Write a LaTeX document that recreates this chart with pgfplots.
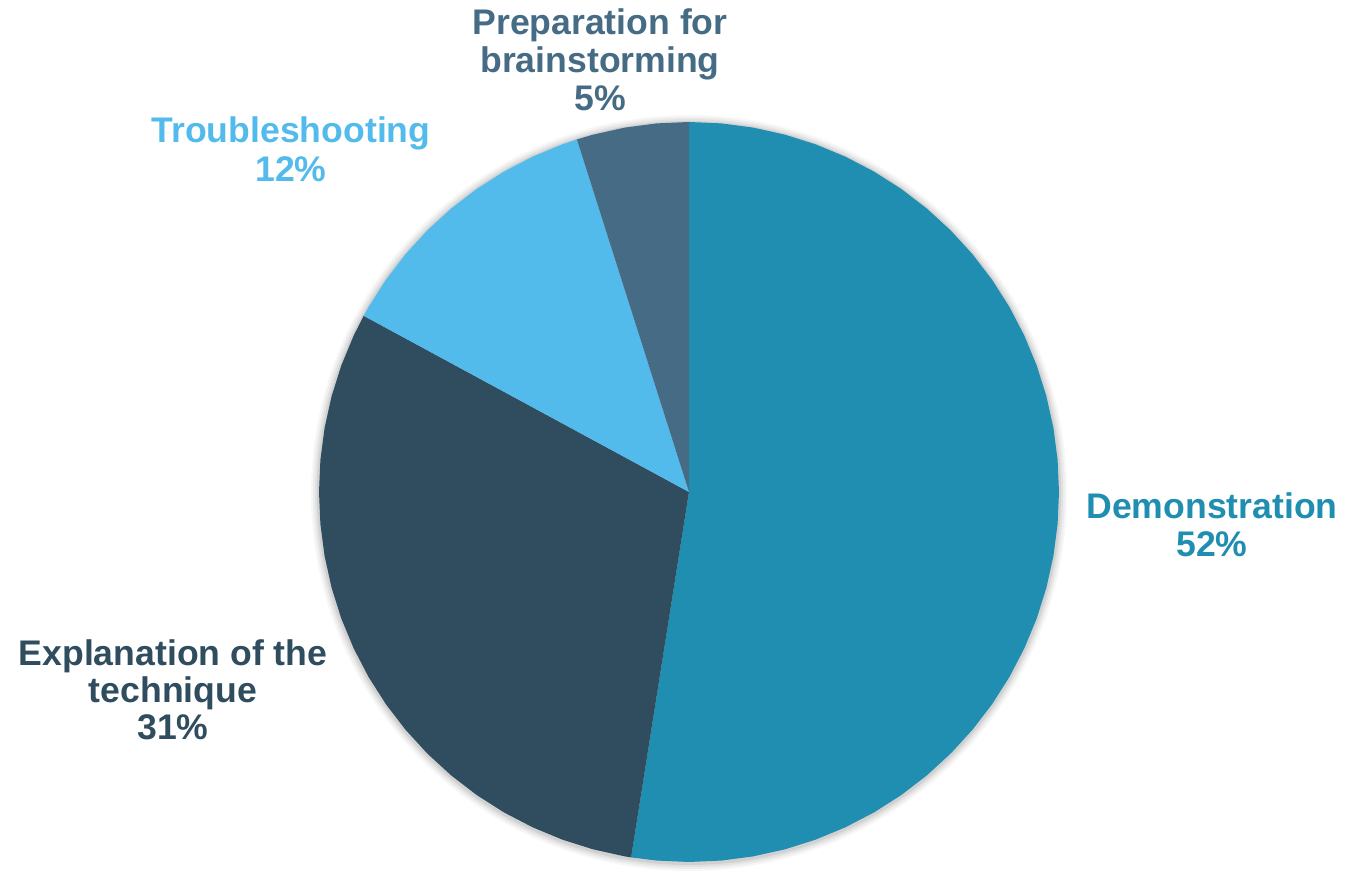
\documentclass[border=0pt]{standalone}
\usepackage{pgfplots}
\pgfplotsset{compat=1.18}
\usepackage{fontspec}
\setmainfont{Liberation Sans}
\definecolor{cDemo}{HTML}{208EB0}
\definecolor{cExpl}{HTML}{2F4D5E}
\definecolor{cTrou}{HTML}{52BBEB}
\definecolor{cPrep}{HTML}{466C85}
\begin{document}
\begin{tikzpicture}[lbl/.style={anchor=base, inner sep=0pt, font=\fontsize{17.8}{19}\selectfont\bfseries}]
\begin{axis}[scale only axis, width=672.5pt, height=431.5pt,
  xmin=-689, xmax=656, ymin=-371, ymax=492,
  hide axis, clip=false]
\path (rel axis cs:0,0) rectangle (rel axis cs:1,1);
% soft shadow
\fill[black, opacity=0.03] (axis cs:0,-1) circle[radius=189pt];
\fill[black, opacity=0.04] (axis cs:0,-1) circle[radius=188pt];
\fill[black, opacity=0.05] (axis cs:0,-1) circle[radius=187pt];
\fill[black, opacity=0.07] (axis cs:0,-1) circle[radius=186pt];
% Demonstration 52.5%
\addplot[data cs=polar, fill=cDemo, draw=none] coordinates {
(0,0) (90,370) (85,370) (80,370) (75,370) (70,370) (65,370) (60,370) (55,370) (50,370)
(45,370) (40,370) (35,370) (30,370) (25,370) (20,370) (15,370) (10,370) (5,370) (0,370)
(-5,370) (-10,370) (-15,370) (-20,370) (-25,370) (-30,370) (-35,370) (-40,370) (-45,370)
(-50,370) (-55,370) (-60,370) (-65,370) (-70,370) (-75,370) (-80,370) (-85,370) (-90,370)
(-95,370) (-99,370) (0,0)};
% Explanation of the technique 30.4%
\addplot[data cs=polar, fill=cExpl, draw=none] coordinates {
(0,0) (-99,370) (-100,370) (-105,370) (-110,370) (-115,370) (-120,370) (-125,370) (-130,370)
(-135,370) (-140,370) (-145,370) (-150,370) (-155,370) (-160,370) (-165,370) (-170,370)
(-175,370) (-180,370) (-185,370) (-190,370) (-195,370) (-200,370) (-205,370) (-208.44,370) (0,0)};
% Troubleshooting 12.2%
\addplot[data cs=polar, fill=cTrou, draw=none] coordinates {
(0,0) (-208.44,370) (-210,370) (-215,370) (-220,370) (-225,370) (-230,370) (-235,370)
(-240,370) (-245,370) (-250,370) (-252.36,370) (0,0)};
% Preparation for brainstorming 4.9%
\addplot[data cs=polar, fill=cPrep, draw=none] coordinates {
(0,0) (-252.36,370) (-255,370) (-260,370) (-265,370) (-270,370) (0,0)};
% labels
\node[lbl, text=cDemo] at (axis cs:523,-27) {Demonstration};
\node[lbl, text=cDemo] at (axis cs:523,-65) {52\%};
\node[lbl, text=cExpl] at (axis cs:-516,-174) {Explanation of the};
\node[lbl, text=cExpl] at (axis cs:-516,-211) {technique};
\node[lbl, text=cExpl] at (axis cs:-516,-248) {31\%};
\node[lbl, text=cTrou] at (axis cs:-398,349) {Troubleshooting};
\node[lbl, text=cTrou] at (axis cs:-398,310) {12\%};
\node[lbl, text=cPrep] at (axis cs:-89,457) {Preparation for};
\node[lbl, text=cPrep] at (axis cs:-89,419) {brainstorming};
\node[lbl, text=cPrep] at (axis cs:-89,381) {5\%};
\end{axis}
\end{tikzpicture}
\end{document}
